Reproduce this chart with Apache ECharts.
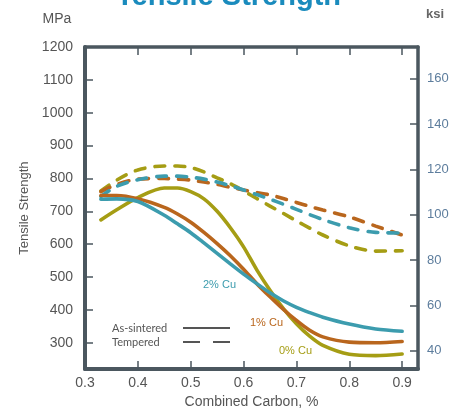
<!DOCTYPE html>
<html>
<head>
<meta charset="utf-8">
<script src="https://cdn.jsdelivr.net/npm/echarts@6/dist/echarts.min.js"></script>
<style>
  html, body { margin: 0; padding: 0; background: #ffffff; }
  #chart { width: 457px; height: 414px; }
</style>
</head>
<body>
<div id="chart"></div>
<script>
// Combined carbon content (%), shared sampling grid for all curves
const carbon = [0.33, 0.36, 0.40, 0.45, 0.475, 0.50, 0.525, 0.55, 0.575, 0.60,
                0.625, 0.65, 0.675, 0.70, 0.725, 0.75, 0.80, 0.85, 0.90];

// Tensile strength, MPa — as-sintered
const sint0Cu = [674, 705, 742, 771, 771, 760, 738, 700, 650, 592, 522, 460, 405, 358, 320, 292, 265, 261, 266];
const sint1Cu = [748, 748, 738, 712, 692, 667, 636, 602, 565, 524, 480, 440, 402, 368, 338, 318, 302, 300, 304];
const sint2Cu = [737, 738, 730, 688, 662, 635, 604, 572, 540, 509, 480, 452, 428, 408, 392, 378, 357, 342, 335];

// Tensile strength, MPa — tempered
const temp0Cu = [762, 795, 826, 838, 838, 833, 820, 802, 784, 762, 739, 716, 694, 671, 649, 628, 595, 579, 580];
const temp1Cu = [760, 782, 798, 800, 798, 795, 789, 782, 773, 765, 757, 750, 739, 727, 715, 704, 683, 655, 628];
const temp2Cu = [745, 776, 796, 807, 807, 804, 798, 789, 778, 765, 751, 737, 722, 706, 690, 675, 650, 636, 634];

// Axis ticks
const carbonTicks = [0.3, 0.4, 0.5, 0.6, 0.7, 0.8, 0.9];
const mpaTicks = [300, 400, 500, 600, 700, 800, 900, 1000, 1100, 1200];
const ksiTicks = [40, 60, 80, 100, 120, 140, 160];

const MPA_MIN = 220, MPA_MAX = 1200;
const MPA_PER_KSI = 6.894757;

const COL = { cu0: '#a59d14', cu1: '#b9661d', cu2: '#3c9cae' };
const FRAME = '#4b575f';
const FONT = '"Liberation Sans", Arial, sans-serif';
const KEY_FONT = '11px Lato, "Liberation Sans", sans-serif';

function pairs(xs, ys) { return xs.map((x, i) => [x, ys[i]]); }

function curve(name, color, ys, dashed) {
  return {
    name: name,
    type: 'line',
    smooth: 0.3,
    symbol: 'none',
    silent: true,
    data: pairs(carbon, ys),
    lineStyle: dashed
      ? { color: color, width: 3.6, type: [10, 10], cap: 'round' }
      : { color: color, width: 3.6, cap: 'round' },
    itemStyle: { color: color },
    z: 3
  };
}

const chart = echarts.init(document.getElementById('chart'), null, { renderer: 'canvas' });

chart.setOption({
  backgroundColor: '#ffffff',
  animation: false,
  textStyle: { fontFamily: FONT },
  grid: { left: 85, right: 39, top: 47, bottom: 41 },
  xAxis: [{
    type: 'value',
    position: 'bottom',
    min: 0.3,
    max: 0.93,
    name: 'Combined Carbon, %',
    nameLocation: 'middle',
    nameGap: 25,
    nameTextStyle: { color: '#555', fontSize: 14 },
    axisLine: { show: true, lineStyle: { color: FRAME, width: 4 } },
    axisTick: { show: true, inside: true, length: 8, lineStyle: { color: FRAME, width: 1.5 },
      customValues: carbonTicks.slice(1) },
    axisLabel: { color: '#555', fontSize: 14, margin: 7, customValues: carbonTicks,
      formatter: v => v.toFixed(1) },
    splitLine: { show: false }
  }, {
    type: 'value',
    position: 'top',
    min: 0.3,
    max: 0.93,
    axisLine: { show: true, lineStyle: { color: FRAME, width: 3.5 } },
    axisTick: { show: true, inside: true, length: 8, lineStyle: { color: FRAME, width: 1.5 },
      customValues: carbonTicks.slice(1) },
    axisLabel: { show: false },
    splitLine: { show: false }
  }],
  yAxis: [{
    type: 'value',
    position: 'left',
    min: MPA_MIN,
    max: MPA_MAX,
    name: 'Tensile Strength',
    nameLocation: 'middle',
    nameGap: 53,
    nameTextStyle: { color: '#555', fontSize: 13 },
    axisLine: { show: true, lineStyle: { color: FRAME, width: 4 } },
    axisTick: { show: true, inside: true, length: 8, lineStyle: { color: FRAME, width: 1.5 },
      customValues: mpaTicks.slice(0, -1) },
    axisLabel: { color: '#555', fontSize: 14, margin: 12, customValues: mpaTicks,
      formatter: v => String(Math.round(v)) },
    splitLine: { show: false }
  }, {
    type: 'value',
    position: 'right',
    min: MPA_MIN / MPA_PER_KSI,
    max: MPA_MAX / MPA_PER_KSI,
    axisLine: { show: true, lineStyle: { color: FRAME, width: 3.5 } },
    axisTick: { show: true, inside: true, length: 8, lineStyle: { color: FRAME, width: 1.5 },
      customValues: ksiTicks },
    axisLabel: { color: '#5d7d9d', fontSize: 13, margin: 9, customValues: ksiTicks,
      formatter: v => String(Math.round(v)) },
    splitLine: { show: false }
  }],
  series: [
    curve('Tempered 0% Cu', COL.cu0, temp0Cu, true),
    curve('Tempered 1% Cu', COL.cu1, temp1Cu, true),
    curve('Tempered 2% Cu', COL.cu2, temp2Cu, true),
    curve('As-sintered 0% Cu', COL.cu0, sint0Cu, false),
    curve('As-sintered 1% Cu', COL.cu1, sint1Cu, false),
    curve('As-sintered 2% Cu', COL.cu2, sint2Cu, false)
  ],
  graphic: [
    // chart title, partly above the canvas top edge
    { type: 'text', left: 'center', top: -18,
      style: { text: 'Tensile Strength', fill: '#1a8bbd', font: 'bold 29px ' + FONT } },
    // unit captions
    { type: 'text', x: 57, y: 19,
      style: { text: 'MPa', fill: '#555', font: '14px ' + FONT, textAlign: 'center', textVerticalAlign: 'middle' } },
    { type: 'text', x: 435, y: 14,
      style: { text: 'ksi', fill: '#666', font: 'bold 13px ' + FONT, textAlign: 'center', textVerticalAlign: 'middle' } },
    // curve captions
    { type: 'text', x: 203, y: 285,
      style: { text: '2% Cu', fill: COL.cu2, font: '11px ' + FONT, textVerticalAlign: 'middle' } },
    { type: 'text', x: 250, y: 323,
      style: { text: '1% Cu', fill: COL.cu1, font: '11px ' + FONT, textVerticalAlign: 'middle' } },
    { type: 'text', x: 279, y: 351,
      style: { text: '0% Cu', fill: COL.cu0, font: '11px ' + FONT, textVerticalAlign: 'middle' } },
    // line-style key
    { type: 'text', x: 112, y: 328,
      style: { text: 'As-sintered', fill: '#555', font: KEY_FONT, textVerticalAlign: 'middle' } },
    { type: 'text', x: 112, y: 342,
      style: { text: 'Tempered', fill: '#555', font: KEY_FONT, textVerticalAlign: 'middle' } },
    { type: 'line', shape: { x1: 183, y1: 328, x2: 230, y2: 328 },
      style: { stroke: '#555', lineWidth: 2 } },
    { type: 'line', shape: { x1: 183, y1: 342, x2: 230, y2: 342 },
      style: { stroke: '#555', lineWidth: 2, lineDash: [17, 13] } }
  ]
});
</script>
</body>
</html>
